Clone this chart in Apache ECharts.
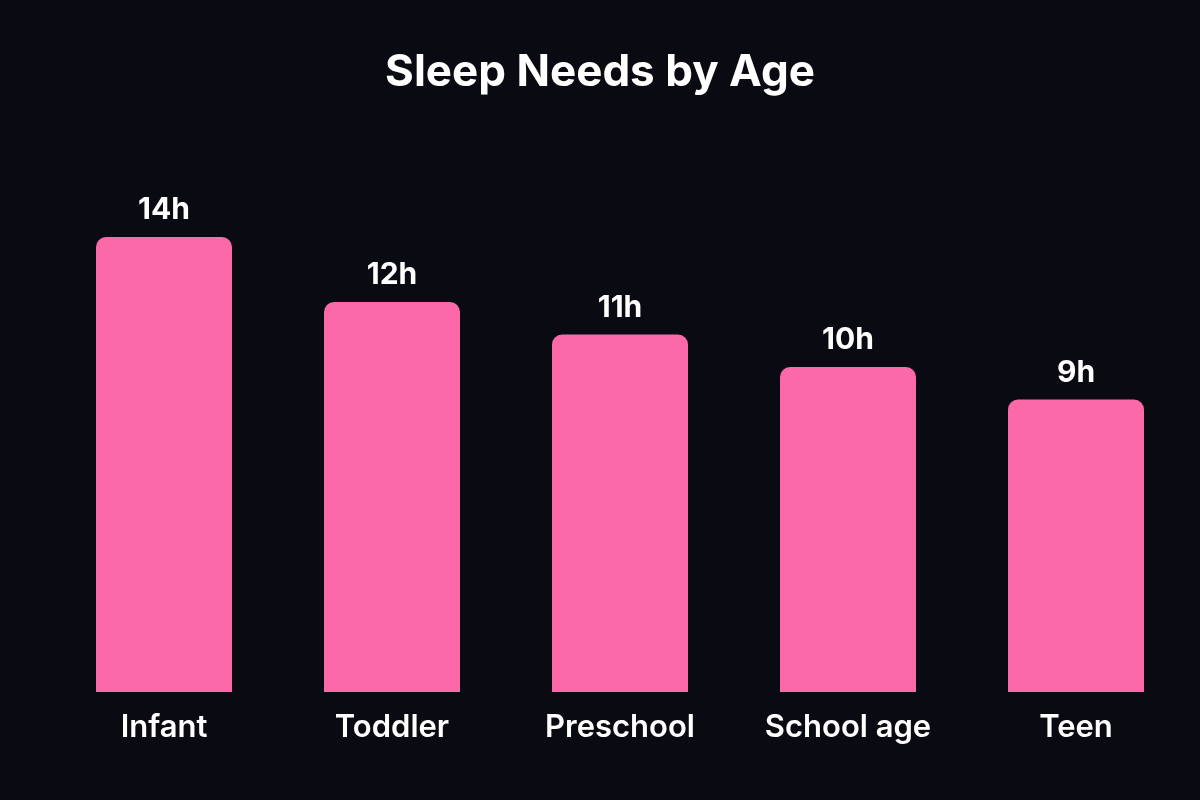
<!DOCTYPE html>
<html><head><meta charset="utf-8">
<script src="https://cdn.jsdelivr.net/npm/echarts@6/dist/echarts.min.js"></script>
<style>html,body{margin:0;padding:0;background:#0a0a12;}#c{width:1200px;height:800px;}</style>
</head><body><div id="c"></div>
<script>
const categories = ["Infant","Toddler","Preschool","School age","Teen"];
const hours = [14,12,11,10,9];
const chart = echarts.init(document.getElementById('c'));
chart.setOption({
  backgroundColor:'#0a0a12',
  title:{text:'Sleep Needs by Age',left:'center',top:46,textStyle:{color:'#ffffff',fontSize:44,fontWeight:'bold',fontFamily:'Inter'}},
  grid:{left:50,right:10,top:172,bottom:108},
  xAxis:{type:'category',data:categories,axisLine:{show:false},axisTick:{show:false},
    axisLabel:{color:'#ffffff',fontSize:31,fontWeight:600,fontFamily:'Inter',margin:20}},
  yAxis:{type:'value',min:0,max:16,show:false,splitLine:{show:false}},
  series:[{type:'bar',data:hours,barWidth:136,
    itemStyle:{color:'#fb69a8',borderRadius:[10,10,0,0]},
    label:{show:true,position:'top',distance:12,formatter:p=>p.value+'h',color:'#ffffff',fontSize:30,fontWeight:'bold',fontFamily:'Inter'}}]
});
</script></body></html>
